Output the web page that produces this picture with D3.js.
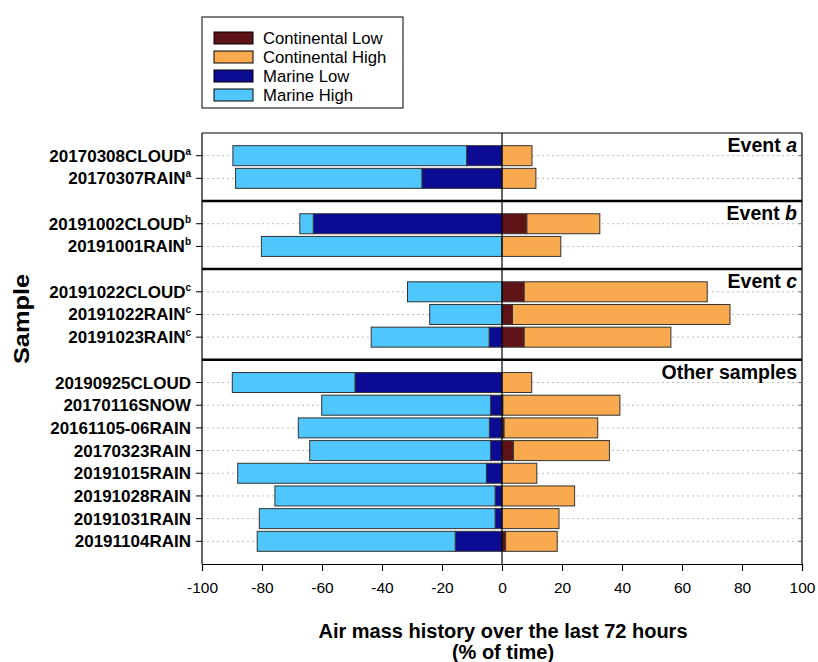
<!DOCTYPE html>
<html><head><meta charset="utf-8">
<script src="https://cdn.jsdelivr.net/npm/d3@7"></script>
<style>body{margin:0;background:#fff;} text{font-family:"Liberation Sans",Arial,sans-serif;}</style>
</head><body><svg id="c" width="818" height="662"></svg>
<script>
const sampleNames = ["20170308CLOUD","20170307RAIN","20191002CLOUD","20191001RAIN","20191022CLOUD","20191022RAIN","20191023RAIN","20190925CLOUD","20170116SNOW","20161105-06RAIN","20170323RAIN","20191015RAIN","20191028RAIN","20191031RAIN","20191104RAIN"];
const sampleSup   = ["a","a","b","b","c","c","c","","","","","","","",""];
const sampleGroup = [0,0,1,1,2,2,2,3,3,3,3,3,3,3,3];
const groupTitle  = [["Event ","a"],["Event ","b"],["Event ","c"],["Other samples",""]];
const marineLow   = [11.8,26.7,62.9,0,0,0,4.3,49.0,3.8,4.2,3.8,5.2,2.3,2.3,15.6];
const marineHigh  = [77.9,62.1,4.5,80.2,31.5,24.1,39.3,40.9,56.3,63.7,60.3,82.9,73.4,78.6,66.0];
const contLow     = [0,0,8.3,0,7.4,3.5,7.4,0,0.3,0.7,3.8,0,0,0,1.2];
const contHigh    = [10.0,11.3,24.3,19.6,61.0,72.5,48.9,9.9,39.0,31.2,32.0,11.6,24.2,19.0,17.2];
const seriesNames = ["Continental Low","Continental High","Marine Low","Marine High"];
const seriesColors= ["#5e1416","#f9aa4f","#0b0b94","#4fc6fc"];
const xTicks = [-100,-80,-60,-40,-20,0,20,40,60,80,100];

const svg = d3.select("#c");
const L=202, R=802, T=133, B=564;
const x = d3.scaleLinear().domain([-100,100]).range([L,R]);

const nGroups = groupTitle.length;
const counts = d3.range(nGroups).map(g=>sampleGroup.filter(v=>v===g).length);
const totalSteps = d3.sum(counts,c=>c+1);
const step = (B-T)/totalSteps;
let cur=T; const panels=[];
counts.forEach((c,g)=>{const h=(c+1)*step; panels.push({g,y0:cur,y1:cur+h}); cur+=h;});
const yScales = panels.map(p=>d3.scalePoint().domain(d3.range(sampleNames.length).filter(i=>sampleGroup[i]===p.g)).range([p.y0,p.y1]).padding(1));
const yOf = i => yScales[sampleGroup[i]](i);
const barH = 20;

const gGrid = svg.append("g");
sampleNames.forEach((s,i)=>{
  gGrid.append("line").attr("x1",L).attr("x2",R).attr("y1",yOf(i)).attr("y2",yOf(i))
    .attr("stroke","#bdbdbd").attr("stroke-width",1).attr("stroke-dasharray","2,3");
});

const gBars = svg.append("g");
sampleNames.forEach((s,i)=>{
  const y = yOf(i)-barH/2;
  const segs = [
    [0,-marineLow[i],2],
    [-marineLow[i],-(marineLow[i]+marineHigh[i]),3],
    [0,contLow[i],0],
    [contLow[i],contLow[i]+contHigh[i],1]
  ];
  segs.forEach(([a,b,k])=>{
    if (Math.abs(b-a)<1e-9) return;
    gBars.append("rect").attr("x",x(Math.min(a,b))).attr("y",y)
      .attr("width",Math.abs(x(b)-x(a))).attr("height",barH)
      .attr("fill",seriesColors[k]).attr("stroke","#333").attr("stroke-width",1);
  });
});

svg.append("line").attr("x1",x(0)).attr("x2",x(0)).attr("y1",T).attr("y2",B).attr("stroke","#000").attr("stroke-width",1.2);

svg.append("line").attr("x1",L).attr("x2",L).attr("y1",T).attr("y2",B).attr("stroke","#000").attr("stroke-width",1.2);
svg.append("line").attr("x1",R).attr("x2",R).attr("y1",T).attr("y2",B).attr("stroke","#000").attr("stroke-width",1.2);
svg.append("line").attr("x1",L).attr("x2",R).attr("y1",T).attr("y2",T).attr("stroke","#000").attr("stroke-width",1.2);

panels.slice(0,-1).forEach(p=>{
  svg.append("line").attr("x1",L).attr("x2",R).attr("y1",p.y1).attr("y2",p.y1).attr("stroke","#000").attr("stroke-width",2.5);
});

const xAxis = d3.axisBottom(x).tickValues(xTicks).tickSize(7).tickPadding(11).tickFormat(d=>String(d));
const gx = svg.append("g").attr("transform",`translate(0,${B})`).call(xAxis);
gx.select(".domain").attr("stroke","#000").attr("stroke-width",1.2);
gx.selectAll(".tick line").attr("stroke","#000");
gx.selectAll(".tick text").attr("font-size","15.5px").attr("font-family","Liberation Sans, Arial, sans-serif").attr("fill","#000");

sampleNames.forEach((s,i)=>{
  svg.append("line").attr("x1",L-6).attr("x2",L).attr("y1",yOf(i)).attr("y2",yOf(i)).attr("stroke","#000");
  svg.append("line").attr("x1",R-3).attr("x2",R).attr("y1",yOf(i)).attr("y2",yOf(i)).attr("stroke","#555");
});

sampleNames.forEach((s,i)=>{
  const t = svg.append("text").attr("x",L-11).attr("y",yOf(i)+6).attr("text-anchor","end")
    .attr("font-size","17px").attr("font-weight","bold").attr("fill","#000");
  t.append("tspan").text(s);
  if (sampleSup[i]) t.append("tspan").text(sampleSup[i]).attr("font-size","10px").attr("dy","-7");
});

panels.forEach((p,g)=>{
  const t = svg.append("text").attr("x",R-5).attr("y",p.y0+19).attr("text-anchor","end")
    .attr("font-size","19.5px").attr("font-weight","bold").attr("fill","#000");
  t.append("tspan").text(groupTitle[g][0]);
  if (groupTitle[g][1]) t.append("tspan").text(groupTitle[g][1]).attr("font-style","italic");
});

svg.append("text").attr("x",x(0)+1).attr("y",638).attr("text-anchor","middle").attr("font-size","20px").attr("font-weight","bold").text("Air mass history over the last 72 hours");
svg.append("text").attr("x",x(0)+1).attr("y",659).attr("text-anchor","middle").attr("font-size","20px").attr("font-weight","bold").text("(% of time)");
svg.append("text").attr("transform","translate(29,319) rotate(-90)").attr("text-anchor","middle").attr("font-size","22px").attr("font-weight","bold")
  .attr("textLength",90).attr("lengthAdjust","spacingAndGlyphs").text("Sample");

const lg = svg.append("g");
lg.append("rect").attr("x",202).attr("y",17).attr("width",201).attr("height",91).attr("fill","#fff").attr("stroke","#000").attr("stroke-width",1);
seriesNames.forEach((n,k)=>{
  const yy = 32 + k*19;
  lg.append("rect").attr("x",214).attr("y",yy).attr("width",39).attr("height",12).attr("fill",seriesColors[k]).attr("stroke","#000").attr("stroke-width",1);
  lg.append("text").attr("x",263).attr("y",yy+11.5).attr("font-size","16.7px").attr("fill","#000").text(n);
});
</script></body></html>
